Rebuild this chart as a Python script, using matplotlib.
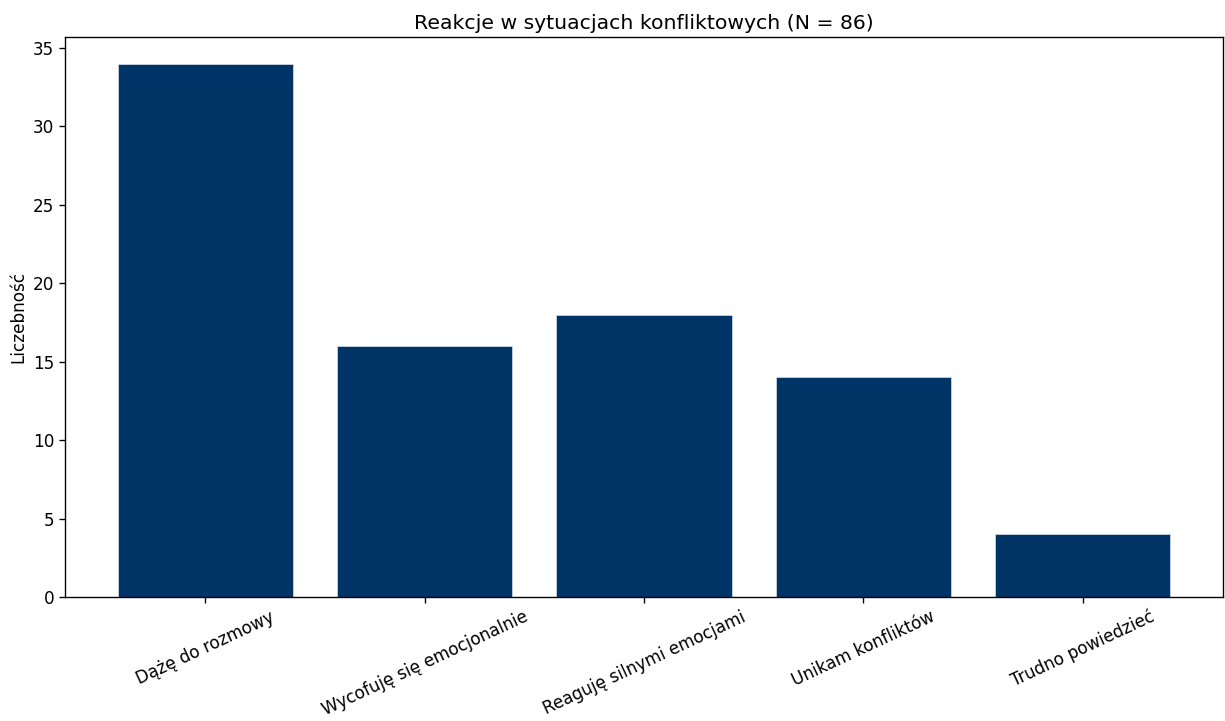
import matplotlib
matplotlib.use("Agg")
import matplotlib.pyplot as plt

kategorie = ["Dążę do rozmowy", "Wycofuję się emocjonalnie", "Reaguję silnymi emocjami",
             "Unikam konfliktów", "Trudno powiedzieć"]
liczebnosc = [34, 16, 18, 14, 4]

S = 1.22  # skala czcionek

fig, ax = plt.subplots(figsize=(12.25, 7.21), dpi=100)
ax.bar(kategorie, liczebnosc, color="#003366", edgecolor="#c8d4e3", linewidth=0.6)
ax.set_title("Reakcje w sytuacjach konfliktowych (N = 86)", fontsize=12 * S)
ax.set_ylabel("Liczebność", fontsize=10 * S)
ax.tick_params(axis="both", labelsize=10 * S, length=3.5 * S, width=0.8 * S)
plt.setp(ax.get_xticklabels(), rotation=25, ha="center")
for s in ax.spines.values():
    s.set_linewidth(0.8 * S)
fig.subplots_adjust(left=65 / 1225, right=1223 / 1225, top=1 - 37 / 721, bottom=1 - 597 / 721)
fig.savefig("out.png", dpi=100)
